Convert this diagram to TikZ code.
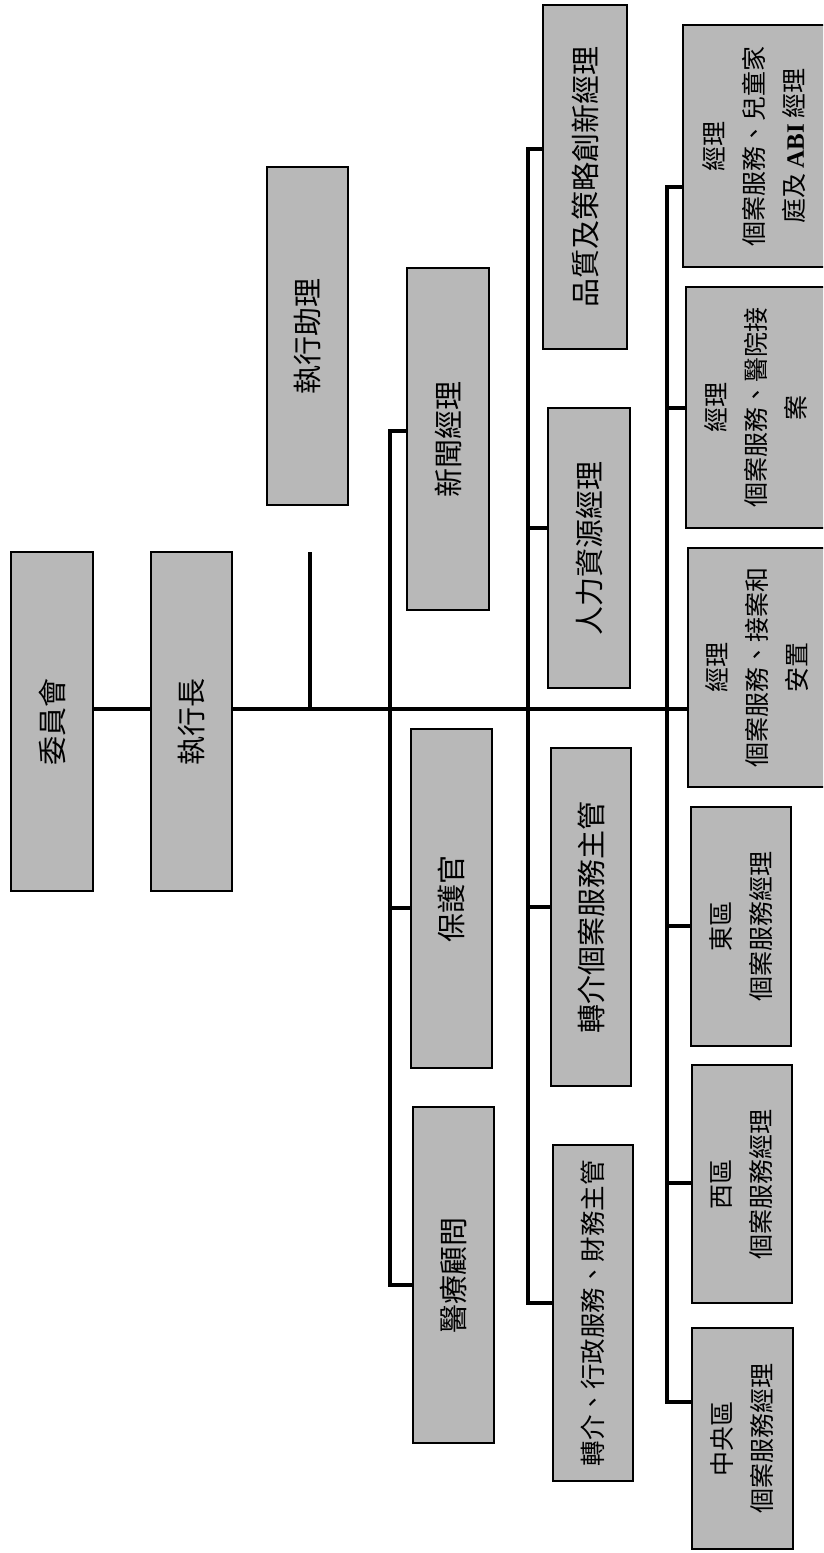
\documentclass[tikz,border=0pt]{standalone}
\usepackage{fontspec}
\newfontfamily\cjk{Noto Sans CJK TC}
\newfontfamily\latb{Liberation Serif}
\definecolor{boxgray}{gray}{0.72}
\begin{document}
\begin{tikzpicture}[x=1pt,y=-1pt,
  orgbox/.style={draw=black, line width=1.4pt, fill=boxgray, rotate=90, inner sep=0pt,
    align=center, font=\cjk\fontsize{29}{36}\selectfont},
  smalltxt/.style={font=\cjk\fontsize{25}{40}\selectfont},
  link/.style={draw=black, line width=3.6pt, line join=miter}]
\clip (0,0) rectangle (823,1553);
\fill[white] (0,0) rectangle (823,1553);

% level 0/1
\node[orgbox, minimum width=339pt, minimum height=82pt] (wy)   at (52,721.5)  {委員會};
\node[orgbox, minimum width=339pt, minimum height=81pt] (ceo)  at (191.5,721.5) {執行長};
\node[orgbox, minimum width=338pt, minimum height=81pt] (asst) at (307.5,336)  {執行助理};

% level 2
\node[orgbox, minimum width=342pt, minimum height=82pt] (news) at (448,439)    {新聞經理};
\node[orgbox, minimum width=339pt, minimum height=81pt] (prot) at (451.5,898.5) {保護官};
\node[orgbox, minimum width=336pt, minimum height=81pt] (med)  at (453.5,1275) {醫療顧問};

% level 3
\node[orgbox, minimum width=344pt, minimum height=84pt] (qual) at (585,177)    {品質及策略創新經理};
\node[orgbox, minimum width=280pt, minimum height=82pt] (hr)   at (589,548)    {人力資源經理};
\node[orgbox, minimum width=338pt, minimum height=80pt] (refc) at (591,917)    {轉介個案服務主管};
\node[orgbox, font=\cjk\fontsize{25.5}{32}\selectfont, minimum width=336pt, minimum height=80pt] (refa) at (593,1313) {轉介、行政服務、財務主管};

% level 4
\node[orgbox, smalltxt, minimum width=242pt, minimum height=143pt] (m1) at (754.5,146)
  {經理\\個案服務、兒童家\\庭及 {\latb\bfseries ABI} 經理};
\node[orgbox, smalltxt, minimum width=241pt, minimum height=140pt] (m2) at (756,407.5)
  {經理\\個案服務、醫院接\\案};
\node[orgbox, smalltxt, minimum width=239pt, minimum height=138pt] (m3) at (757,667.5)
  {經理\\個案服務、接案和\\安置};
\node[orgbox, smalltxt, minimum width=239pt, minimum height=100pt] (east) at (741,926.5)
  {東區\\個案服務經理};
\node[orgbox, smalltxt, minimum width=238pt, minimum height=100pt] (west) at (742,1184)
  {西區\\個案服務經理};
\node[orgbox, smalltxt, minimum width=221pt, minimum height=101pt] (cent) at (742.5,1438.5)
  {中央區\\個案服務經理};

% main line
\coordinate (mainy) at (0,709);
\draw[link] (mainy -| wy.south) -- (mainy -| ceo.north);
\draw[link] (mainy -| ceo.south) -- (mainy -| m3.north);
\coordinate (stub) at (310,552);
\draw[link] (stub) -- (stub |- mainy);

% bus 1
\coordinate (b1a) at (390,431);
\coordinate (b1b) at (390,908);
\coordinate (b1c) at (390,1285);
\draw[link] (b1a -| news.north) -- (b1a) -- (b1c) -- (b1c -| med.north);
\draw[link] (b1b) -- (b1b -| prot.north);

% bus 2
\coordinate (b2a) at (528,149);
\coordinate (b2b) at (528,528);
\coordinate (b2c) at (528,907);
\coordinate (b2d) at (528,1303);
\draw[link] (b2a -| qual.north) -- (b2a) -- (b2d) -- (b2d -| refa.north);
\draw[link] (b2b) -- (b2b -| hr.north);
\draw[link] (b2c) -- (b2c -| refc.north);

% bus 3
\coordinate (b3a) at (667,187);
\coordinate (b3b) at (667,408);
\coordinate (b3c) at (667,926);
\coordinate (b3d) at (667,1183);
\coordinate (b3e) at (667,1402);
\draw[link] (b3a -| m1.north) -- (b3a) -- (b3e) -- (b3e -| cent.north);
\draw[link] (b3b) -- (b3b -| m2.north);
\draw[link] (b3c) -- (b3c -| east.north);
\draw[link] (b3d) -- (b3d -| west.north);
\end{tikzpicture}
\end{document}
